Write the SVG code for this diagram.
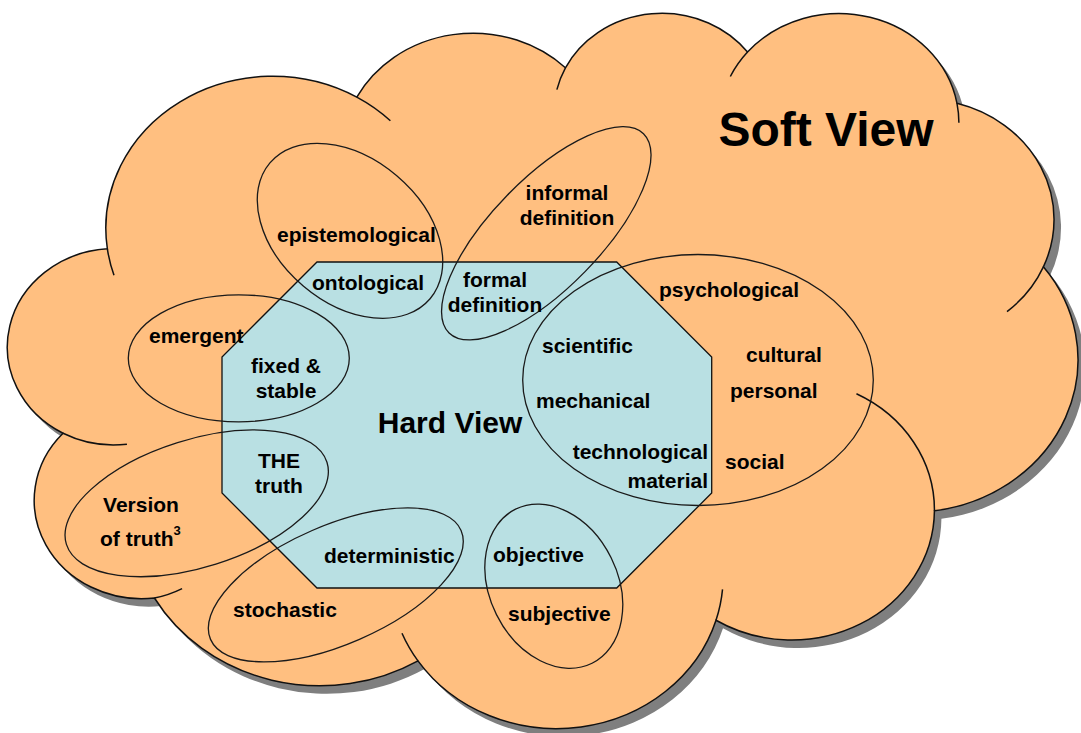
<svg xmlns="http://www.w3.org/2000/svg" width="1081" height="733" viewBox="0 0 1081 733">
<style>
.lbl{font-family:"Liberation Sans",Arial,sans-serif;font-weight:bold;font-size:21px;fill:#000}
.ell{fill:none;stroke:#1a1a1a;stroke-width:1.3}
.cl{vector-effect:non-scaling-stroke}
</style>
<defs>
<path id="cloudPath" vector-effect="non-scaling-stroke" d="M 3900 14370 A 6753 9190 0 0 1 14006 5202.9 A 5333 7267 0 0 1 22458.3 3432.8 A 4365 5945 0 0 1 29835.6 2481.5 A 4857 6595 0 0 1 38321.3 5575.8 A 5333 7273 0 0 1 41821.7 15459.4 A 6775 9220 0 0 1 37407.1 30201.9 A 5785 7867 0 0 1 28558.5 36812 A 6752 9215 0 0 1 16483.9 39265.3 A 7720 10543 0 0 1 5807.1 35469.6 A 4360 5945 0 0 1 2104.3 25516.1 A 4345 5945 0 0 1 3900 14370 Z"/>
</defs>
<rect width="1081" height="733" fill="#fff"/>
<g id="soft-view">
<g transform="translate(7,8)">
<use href="#cloudPath" transform="matrix(0.024683 0 0 0.01655 11.1 11)" fill="#7f7f7f"/>
</g>
<use href="#cloudPath" transform="matrix(0.024683 0 0 0.01655 11.1 11)" fill="#FFBF80" stroke="#111" stroke-width="1.5"/>
<path transform="matrix(0.024683 0 0 0.01655 11.1 11)" fill="none" stroke="#111" stroke-width="1.5" class="cl" d="M 4693 26177 A 4345 5945 0 0 1 2104.3 25516.1 M 6928 34899 A 4360 5945 0 0 1 5807.1 35469.6 M 16483.9 39265.3 A 6752 9215 0 0 1 15835.9 37594 M 28822.5 34945.1 A 6752 9215 0 0 1 28558.5 36812 M 34248.6 23129.2 A 5785 7867 0 0 1 37407.1 30201.9 M 41821.7 15459.4 A 5333 7273 0 0 1 40348.2 18164.7 M 38321.3 5575.8 A 4857 6595 0 0 1 38398.2 6745 M 29139.3 3957.8 A 4857 6595 0 0 1 29835.6 2481.5 M 22111.4 4748.8 A 4365 5945 0 0 1 22458.3 3432.8 M 14006 5202.9 A 6753 9190 0 0 1 15366.4 6633.2 M 4168.8 15971.4 A 6753 9190 0 0 1 3900 14370"/>
<text x="826" y="146" text-anchor="middle" style="font-family:'Liberation Sans',Arial,sans-serif;font-weight:bold;font-size:48px">Soft View</text>
</g>
<g id="hard-view">
<polygon points="317,262 616.7,262 711.7,357 711.7,493 616.7,588 317,588 222,493 222,357" fill="#B9E0E3" stroke="#111" stroke-width="1.3"/>
<text x="450" y="433" text-anchor="middle" style="font-family:'Liberation Sans',Arial,sans-serif;font-weight:bold;font-size:30px">Hard View</text>
</g>
<g id="epistemological-ontological">
<ellipse class="ell" cx="350" cy="230.8" rx="105" ry="72.3" transform="rotate(40.3 350 230.8)"/>
<text class="lbl" x="277" y="242">epistemological</text>
<text class="lbl" x="312" y="290">ontological</text>
</g>
<g id="informal-formal-definition">
<ellipse class="ell" cx="546.3" cy="233.3" rx="139.2" ry="54.5" transform="rotate(-45.7 546.3 233.3)"/>
<text class="lbl" x="567" y="200" text-anchor="middle">informal</text>
<text class="lbl" x="567" y="225" text-anchor="middle">definition</text>
<text class="lbl" x="495" y="287" text-anchor="middle">formal</text>
<text class="lbl" x="495" y="312" text-anchor="middle">definition</text>
</g>
<g id="social-material">
<ellipse class="ell" cx="698" cy="380" rx="175.3" ry="125.5"/>
<text class="lbl" x="659" y="297">psychological</text>
<text class="lbl" x="746" y="362">cultural</text>
<text class="lbl" x="730" y="398">personal</text>
<text class="lbl" x="725" y="469">social</text>
<text class="lbl" x="542" y="353">scientific</text>
<text class="lbl" x="536" y="408">mechanical</text>
<text class="lbl" x="708" y="459" text-anchor="end">technological</text>
<text class="lbl" x="708" y="488" text-anchor="end">material</text>
</g>
<g id="emergent-fixed">
<ellipse class="ell" cx="238.8" cy="358.3" rx="110.5" ry="63.5"/>
<text class="lbl" x="149" y="343">emergent</text>
<text class="lbl" x="286" y="373" text-anchor="middle">fixed &amp;</text>
<text class="lbl" x="286" y="398" text-anchor="middle">stable</text>
</g>
<g id="truth">
<ellipse class="ell" cx="196.7" cy="503.3" rx="136.6" ry="63.7" transform="rotate(-17.5 196.7 503.3)"/>
<text class="lbl" x="279" y="468" text-anchor="middle">THE</text>
<text class="lbl" x="279" y="493" text-anchor="middle">truth</text>
<text class="lbl" x="141" y="512" text-anchor="middle">Version</text>
<text class="lbl" x="100" y="546">of truth<tspan dy="-11" style="font-size:13px">3</tspan></text>
</g>
<g id="deterministic-stochastic">
<ellipse class="ell" cx="335.8" cy="584.9" rx="136.6" ry="59.3" transform="rotate(-23.5 335.8 584.9)"/>
<text class="lbl" x="324" y="563">deterministic</text>
<text class="lbl" x="233" y="617">stochastic</text>
</g>
<g id="objective-subjective">
<ellipse class="ell" cx="553.8" cy="586.2" rx="64" ry="86" transform="rotate(-26.4 553.8 586.2)"/>
<text class="lbl" x="493" y="562">objective</text>
<text class="lbl" x="508" y="621">subjective</text>
</g>
<g id="connectors"/>
</svg>
